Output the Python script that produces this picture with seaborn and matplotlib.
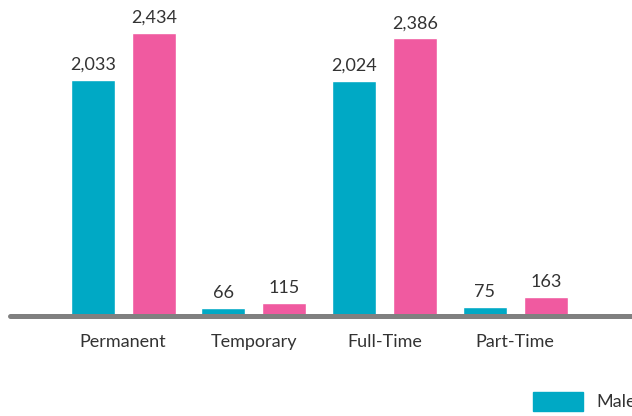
import matplotlib
matplotlib.use('Agg')
import matplotlib.pyplot as plt
import seaborn as sns
import pandas as pd
from matplotlib.patches import Patch

# data
categories = ['Permanent', 'Temporary', 'Full-Time', 'Part-Time']
male = [2033, 66, 2024, 75]
female = [2434, 115, 2386, 163]

teal = '#00A9C5'
pink = '#F05AA0'
text_col = '#333333'

df = pd.DataFrame({
    'category': categories * 2,
    'gender': ['Male'] * 4 + ['Female'] * 4,
    'value': male + female,
})

sns.set_theme(style='white')
plt.rcParams['font.family'] = ['Lato', 'DejaVu Sans']

fig = plt.figure(figsize=(6.32, 4.16), dpi=100)
ax = fig.add_axes([10 / 632, 100 / 416, 622 / 632, 316 / 416])

sns.barplot(data=df, x='category', y='value', hue='gender', order=categories,
            hue_order=['Male', 'Female'], palette=[teal, pink],
            width=0.934, gap=0.28, saturation=1, legend=False, ax=ax)

for cont in ax.containers:
    ax.bar_label(cont, labels=[f'{v:,.0f}' for v in cont.datavalues],
                 padding=5, fontsize=13, color=text_col)

ax.set_xlim(-0.866, 3.893)
ax.set_ylim(0, 2717)
ax.axhline(0, color='#808080', lw=3.6, clip_on=False, zorder=5)

for s in ax.spines.values():
    s.set_visible(False)
ax.set_yticks([])
ax.set_xlabel('')
ax.set_ylabel('')
ax.tick_params(axis='x', length=0, pad=13, labelsize=13, labelcolor=text_col)

# legend, partly off the canvas like the original
handles = [Patch(color=teal), Patch(color=pink)]
fig.legend(handles, ['Male', 'Female'], ncol=2, loc='upper left',
           bbox_to_anchor=(533 / 632, 24 / 416), frameon=False,
           borderpad=0, borderaxespad=0, handlelength=2.75, handleheight=1.2,
           handletextpad=0.75, columnspacing=2, fontsize=13,
           labelcolor=text_col)

fig.savefig('out.png', dpi=100)
